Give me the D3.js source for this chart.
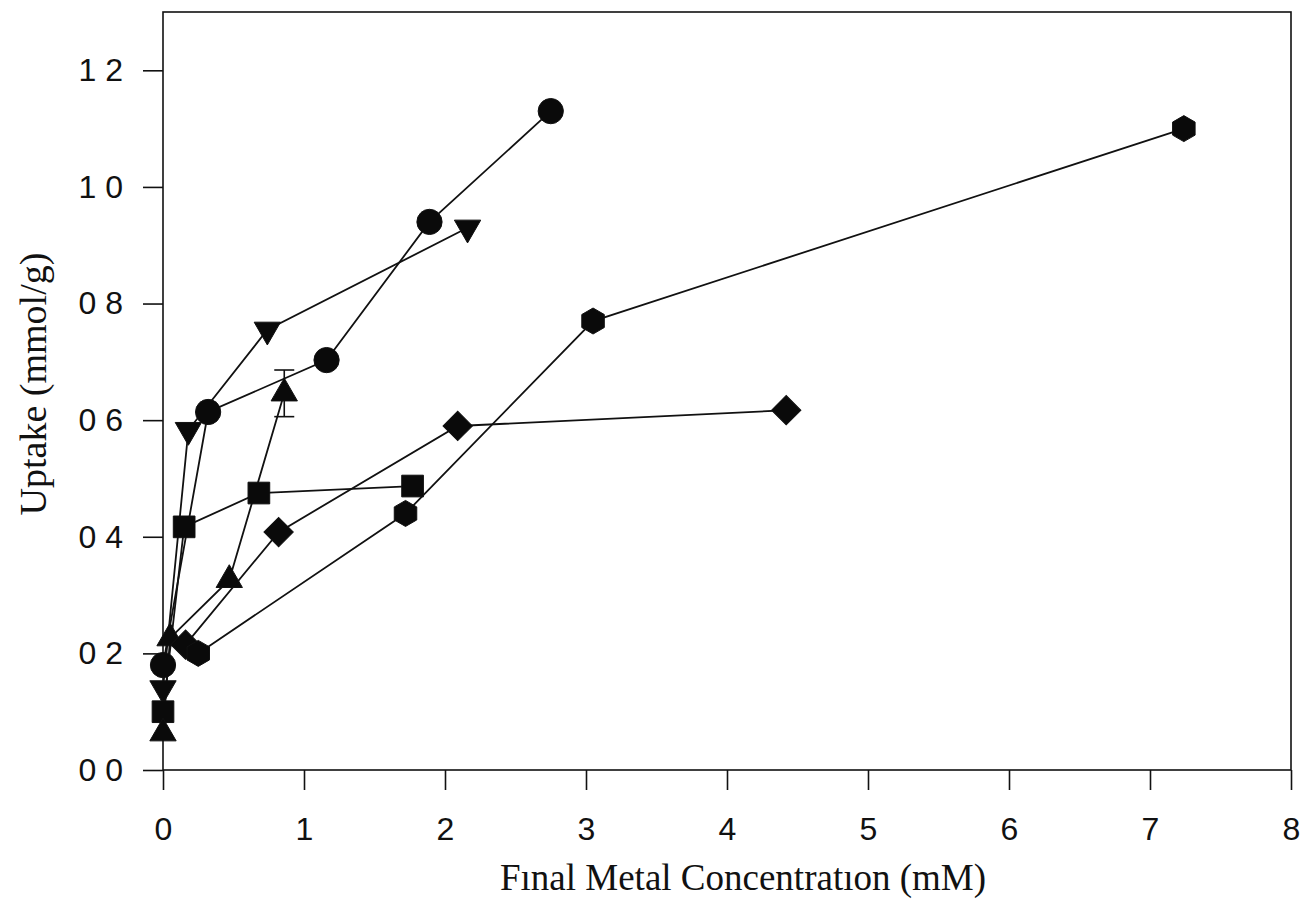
<!DOCTYPE html>
<html>
<head>
<meta charset="utf-8">
<script src="https://cdn.jsdelivr.net/npm/d3@7"></script>
<style>
body { margin: 0; background: #fff; }
.axis text { font-family: "Liberation Sans", Arial, sans-serif; font-size: 32px; fill: #111; }
.axis path, .axis line { stroke: #111; stroke-width: 1.6; }
.title { font-family: "Liberation Serif", "Times New Roman", serif; fill: #111; }
</style>
</head>
<body>
<svg id="chart" width="1315" height="903"></svg>
<script>
// series values
var circleX = [0, 0.32, 1.16, 1.89, 2.75];
var circleY = [0.18, 0.614, 0.703, 0.94, 1.13];
var downTriX = [0, 0.18, 0.74, 2.16];
var downTriY = [0.14, 0.583, 0.755, 0.93];
var squareX = [0, 0.15, 0.68, 1.77];
var squareY = [0.10, 0.417, 0.475, 0.487];
var upTriX = [0, 0.05, 0.47, 0.86];
var upTriY = [0.063, 0.226, 0.326, 0.646];
var upTriErr = [0, 0, 0, 0.04];
var diamondX = [0.16, 0.82, 2.09, 4.42];
var diamondY = [0.215, 0.408, 0.59, 0.617];
var hexX = [0.25, 1.72, 3.05, 7.24];
var hexY = [0.20, 0.44, 0.77, 1.10];

var xTicks = [0, 1, 2, 3, 4, 5, 6, 7, 8];
var yTicks = [0, 0.2, 0.4, 0.6, 0.8, 1.0, 1.2];

var svg = d3.select("#chart"),
    margin = {top: 12, right: 24, bottom: 133, left: 163},
    width = +svg.attr("width") - margin.left - margin.right,
    height = +svg.attr("height") - margin.top - margin.bottom;

var g = svg.append("g").attr("transform", "translate(" + margin.left + "," + margin.top + ")");

var x = d3.scaleLinear().domain([0, 8]).range([0, width]);
var y = d3.scaleLinear().domain([0, 1.3]).range([height, 0]);

// frame
g.append("rect")
    .attr("width", width).attr("height", height)
    .attr("fill", "none").attr("stroke", "#111").attr("stroke-width", 1.6);

g.append("g")
    .attr("class", "axis")
    .attr("transform", "translate(0," + height + ")")
    .call(d3.axisBottom(x).tickValues(xTicks).tickSize(20).tickSizeOuter(0).tickPadding(27).tickFormat(d3.format("d")));

g.append("g")
    .attr("class", "axis")
    .call(d3.axisLeft(y).tickValues(yTicks).tickSize(20).tickSizeOuter(0).tickPadding(20)
        .tickFormat(function(d){ return d3.format(".1f")(d).replace(".", " "); }));

g.selectAll(".axis .domain").remove();

function hexPath(r) {
    var pts = d3.range(6).map(function(i){
        var a = Math.PI / 6 + i * Math.PI / 3;
        return [r * Math.cos(a), r * Math.sin(a)];
    });
    return "M" + pts.join("L") + "Z";
}

var series = [
    {xs: circleX, ys: circleY, shape: d3.symbol(d3.symbolCircle, 500)(), rot: 0},
    {xs: downTriX, ys: downTriY, shape: d3.symbol(d3.symbolTriangle, 300)(), rot: 180},
    {xs: squareX, ys: squareY, shape: d3.symbol(d3.symbolSquare, 470)(), rot: 0},
    {xs: upTriX, ys: upTriY, shape: d3.symbol(d3.symbolTriangle, 300)(), rot: 0, err: upTriErr},
    {xs: diamondX, ys: diamondY, shape: d3.symbol(d3.symbolSquare, 430)(), rot: 45},
    {xs: hexX, ys: hexY, shape: hexPath(13), rot: 0}
];

var line = d3.line()
    .x(function(d){ return x(d[0]); })
    .y(function(d){ return y(d[1]); });

series.forEach(function(s){
    var pts = s.xs.map(function(v, i){ return [v, s.ys[i]]; });
    g.append("path")
        .datum(pts)
        .attr("d", line)
        .attr("fill", "none")
        .attr("stroke", "#111")
        .attr("stroke-width", 1.8);
    if (s.err) {
        pts.forEach(function(p, i){
            var e = s.err[i];
            if (!e) return;
            var eg = g.append("g").attr("stroke", "#111").attr("stroke-width", 1.6);
            eg.append("line").attr("x1", x(p[0])).attr("x2", x(p[0])).attr("y1", y(p[1] - e)).attr("y2", y(p[1] + e));
            [p[1] - e, p[1] + e].forEach(function(v){
                eg.append("line").attr("x1", x(p[0]) - 10).attr("x2", x(p[0]) + 10).attr("y1", y(v)).attr("y2", y(v));
            });
        });
    }
});

series.forEach(function(s){
    var pts = s.xs.map(function(v, i){ return [v, s.ys[i]]; });
    g.selectAll(null)
        .data(pts)
      .enter().append("path")
        .attr("d", s.shape)
        .attr("transform", function(d){ return "translate(" + x(d[0]) + "," + y(d[1]) + ") rotate(" + s.rot + ")"; })
        .attr("fill", "#0a0a0a")
        .attr("stroke", "#111")
        .attr("stroke-width", 1);
});

// axis titles
svg.append("text")
    .attr("class", "title")
    .attr("x", 743).attr("y", 890)
    .attr("text-anchor", "middle")
    .style("font-size", "37px")
    .text("Fınal Metal Concentratıon (mM)");

svg.append("text")
    .attr("class", "title")
    .attr("transform", "translate(46,384) rotate(-90)")
    .attr("text-anchor", "middle")
    .style("font-size", "38px")
    .text("Uptake (mmol/g)");
</script>
</body>
</html>
